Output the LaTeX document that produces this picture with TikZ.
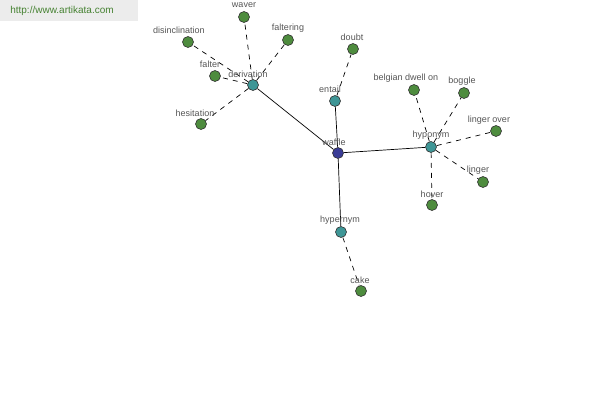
\documentclass[tikz,border=0pt]{standalone}
\usepackage{fontspec}
\setmainfont{Liberation Sans}
\usetikzlibrary{positioning}
\definecolor{wleaf}{RGB}{78,140,62}
\definecolor{wrel}{RGB}{62,150,150}
\definecolor{wroot}{RGB}{58,60,150}
\definecolor{wtext}{RGB}{85,85,85}
\definecolor{wlink}{RGB}{70,130,50}
\definecolor{wband}{RGB}{236,236,236}
\tikzset{
  leaf/.style={circle, draw=black!80, fill=wleaf, minimum size=11pt, inner sep=0pt, line width=0.6pt},
  rel/.style={leaf, fill=wrel},
  root/.style={leaf, fill=wroot},
  lbl/.style={text=wtext, font=\fontsize{9}{10}\selectfont, inner sep=0pt},
  solid edge/.style={black, line width=0.7pt},
  dash edge/.style={black, line width=0.7pt, dash pattern=on 5pt off 5pt},
}
\begin{document}
\begin{tikzpicture}[x=1pt, y=-1pt]
  \useasboundingbox (0,0) rectangle (600,400);

  %% -- header --
  \fill[wband] (0,0) rectangle (138,21);
  \node[text=wlink, font=\fontsize{10}{12}\selectfont, inner sep=0pt] (site) at (62,11) {http://www.artikata.com};

  %% -- nodes --
  \node[root] (waffle) at (338,153) {};
  \node[rel] (deriv) at (253,85) {};
  \node[rel] (entail) at (335,101) {};
  \node[rel] (hypo) at (431,147) {};
  \node[rel] (hyper) at (341,232) {};

  \node[leaf] (waver) at (244,17) {};
  \node[leaf] (faltering) at (288,40) {};
  \node[leaf] (disincl) at (188,42) {};
  \node[leaf] (falter) at (215,76) {};
  \node[leaf] (hesit) at (201,124) {};
  \node[leaf] (doubt) at (353,49) {};
  \node[leaf] (belgian) at (414,90) {};
  \node[leaf] (boggle) at (464,93) {};
  \node[leaf] (lingover) at (496,131) {};
  \node[leaf] (linger) at (483,182) {};
  \node[leaf] (hover) at (432,205) {};
  \node[leaf] (cake) at (361,291) {};

  %% -- links --
  \foreach \a in {deriv,entail,hypo,hyper}{
    \draw[solid edge] (waffle) -- (\a);
  }
  \foreach \b in {waver,faltering,disincl,falter,hesit}{
    \draw[dash edge] (deriv) -- (\b);
  }
  \foreach \b in {belgian,boggle,lingover,linger,hover}{
    \draw[dash edge] (hypo) -- (\b);
  }
  \draw[dash edge] (entail) -- (doubt);
  \draw[dash edge] (hyper) -- (cake);

  %% -- labels --
  \node[lbl] (l-waffle) at (334,142) {waffle};
  \node[lbl] (l-deriv) at (248,74) {derivation};
  \node[lbl] (l-entail) at (330,89) {entail};
  \node[lbl] (l-hypo) at (431,135) {hyponym};
  \node[lbl] (l-hyper) at (340,220) {hypernym};
  \node[lbl] (l-waver) at (244,5) {waver};
  \node[lbl] (l-faltering) at (288,28) {faltering};
  \node[lbl] (l-disincl) at (179,30) {disinclination};
  \node[lbl] (l-falter) at (210,64) {falter};
  \node[lbl] (l-hesit) at (195,113) {hesitation};
  \node[lbl] (l-doubt) at (352,37) {doubt};
  \node[lbl] (l-belgian) at (406,78) {belgian dwell on};
  \node[lbl] (l-boggle) at (462,81) {boggle};
  \node[lbl] (l-lingover) at (489,120) {linger over};
  \node[lbl] (l-linger) at (478,170) {linger};
  \node[lbl] (l-hover) at (432,194) {hover};
  \node[lbl] (l-cake) at (360,280) {cake};
\end{tikzpicture}
\end{document}
